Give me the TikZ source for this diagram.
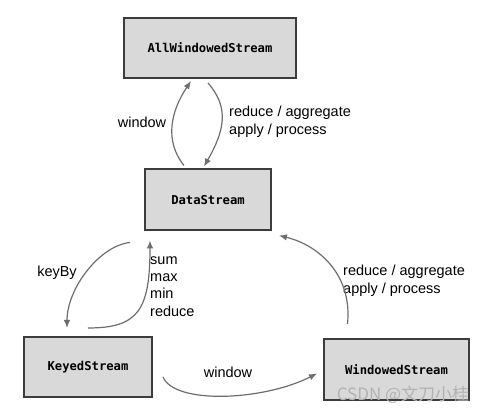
\documentclass[tikz,border=0pt]{standalone}
\usepackage{fontspec}
\setmainfont{Liberation Sans}
\setmonofont{DejaVu Sans Mono}
\newfontfamily\cjk{Noto Sans CJK SC}
\usetikzlibrary{arrows.meta}
\definecolor{boxfill}{HTML}{D9D9D9}
\definecolor{boxline}{HTML}{3C3C3C}
\definecolor{flowgray}{HTML}{6E6E6E}
\begin{document}
\begin{tikzpicture}[x=1pt,y=1pt,
    stream/.style={rectangle, draw=boxline, fill=boxfill, line width=2pt, inner sep=0pt,
      font=\ttfamily\bfseries\fontsize{12.2}{14}\selectfont},
    lbl/.style={inner sep=0pt, align=left, font=\fontsize{14.5}{18}\selectfont},
    flow/.style={draw=flowgray, line width=1.2pt, -{Latex[length=8pt,width=6.5pt]}}]
      \useasboundingbox (0,0) rectangle (491,415);

      \node[stream, minimum width=172pt, minimum height=60pt] (aws) at (210,367) {AllWindowedStream};
      \node[stream, minimum width=126pt, minimum height=61pt] (ds) at (208,215) {DataStream};
      \node[stream, minimum width=128pt, minimum height=60pt] (ks) at (88,48) {KeyedStream};
      \node[stream, minimum width=145pt, minimum height=61pt] (ws) at (396.5,45.5) {WindowedStream};

      \node[lbl] (lwin) at (142,293) {window};
      \node[lbl, anchor=west] (lred) at (229,293) {reduce / aggregate\\apply / process};
      \node[lbl] (lkey) at (57,142) {keyBy};
      \node[lbl, anchor=west, font=\fontsize{14.5}{17.2}\selectfont] (lagg) at (150,128.5) {sum\\max\\min\\reduce};
      \node[lbl] (lwin2) at (228,43) {window};
      \node[lbl, anchor=west] (lred2) at (343,134) {reduce / aggregate\\apply / process};
      \node[inner sep=0pt, text=black!30, font=\cjk\fontsize{17}{19}\selectfont] (mark) at (403,20) {CSDN @文刀小桂};

      \draw[flow] ([xshift=-24pt,yshift=3pt]ds.north) .. controls +(-20,25) and +(-20,-30) .. ([xshift=-19pt,yshift=-2pt]aws.south);
      \draw[flow] ([xshift=-2pt,yshift=-4pt]aws.south) .. controls +(22,-25) and +(20,35) .. ([xshift=-4pt,yshift=2pt]ds.north);
      \draw[flow] ([xshift=-78pt,yshift=-11pt]ds.south) .. controls +(-30,-3) and +(0,40) .. ([xshift=-21pt,yshift=8pt]ks.north);
      \draw[flow] ([xshift=0pt,yshift=8pt]ks.north) .. controls +(50,0) and +(0,-70) .. ([xshift=-58pt,yshift=-9pt]ds.south);
      \draw[flow] ([xshift=10pt,yshift=-10pt]ks.east) .. controls +(12,-28) and +(-53,-27) .. ([xshift=-6pt,yshift=-4pt]ws.west);
      \draw[flow] ([xshift=-49pt,yshift=14pt]ws.north) .. controls +(5,48) and +(41,-10) .. ([xshift=7pt,yshift=-4pt]ds.south east);
    \end{tikzpicture}
\end{document}
